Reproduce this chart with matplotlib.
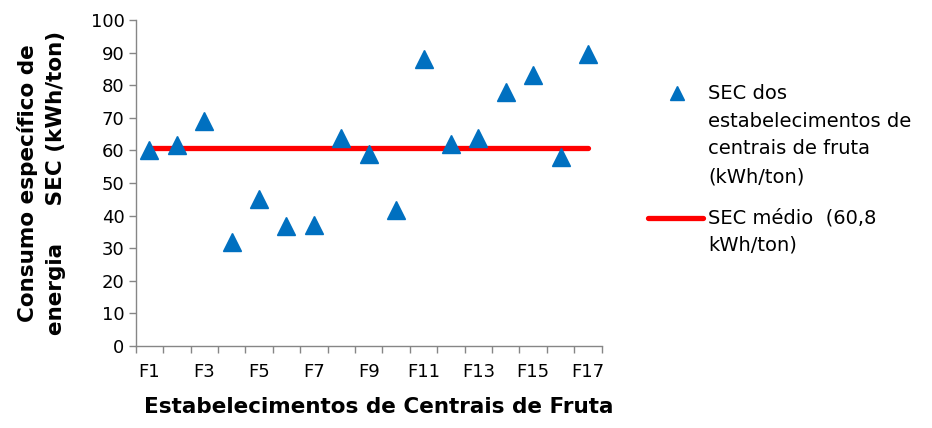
import numpy as np
import matplotlib.pyplot as plt
from matplotlib.lines import Line2D

# SEC por estabelecimento (kWh/ton)
categorias = [f"F{i}" for i in range(1, 18)]
sec = [60.0, 61.7, 69.1, 31.8, 45.0, 36.8, 37.1, 63.7, 58.9, 41.7,
       88.0, 62.0, 63.7, 77.9, 83.0, 58.1, 89.5]
sec_medio = 60.8

azul = "#0070C0"
vermelho = "#FF0000"
cinza = "#868686"

plt.rcParams['font.family'] = ['DejaVu Sans']

fig = plt.figure(figsize=(9.32, 4.28), dpi=100)
ax = fig.add_axes([0.1456, 0.1916, 0.5, 0.7617])

x = np.arange(1, len(categorias) + 1)
ax.plot([x[0], x[-1]], [sec_medio, sec_medio], color=vermelho, lw=3.8,
        solid_capstyle='round', zorder=2)
ax.plot(x, sec, linestyle='none', marker='^', markersize=12.5,
        color=azul, zorder=3)

ax.set_xlim(0.5, len(categorias) + 0.5)
ax.set_ylim(0, 100)
ax.set_yticks(np.arange(0, 101, 10))
ax.set_xticks(x[::2])
ax.set_xticklabels(categorias[::2])
ax.set_xticks(np.arange(0.5, len(categorias) + 1), minor=True)

for s in ['top', 'right']:
    ax.spines[s].set_visible(False)
for s in ['left', 'bottom']:
    ax.spines[s].set_color(cinza)
    ax.spines[s].set_linewidth(1.0)

ax.tick_params(axis='y', direction='out', length=5, width=1, color=cinza,
               labelsize=13, pad=3)
ax.tick_params(axis='x', which='major', length=0, labelsize=13, pad=12)
ax.tick_params(axis='x', which='minor', direction='out', length=5, width=1,
               color=cinza)

ax.set_xlabel("Estabelecimentos de Centrais de Fruta", fontsize=15.5,
              fontweight='bold')
ax.xaxis.set_label_coords(0.522, -0.156)
ax.set_ylabel("Consumo específico de\nenergia     SEC (kWh/ton)", fontsize=15.5,
              fontweight='bold', linespacing=1.5)
ax.yaxis.set_label_coords(-0.15, 0.5)

# legenda
fig.add_artist(Line2D([677 / 932], [1 - 93 / 428], marker='^', markersize=9.5,
                      color=azul, linestyle='none', transform=fig.transFigure))
fig.text(708 / 932, 1 - 84 / 428,
         "SEC dos\nestabelecimentos de\ncentrais de fruta\n(kWh/ton)",
         fontsize=14, va='top', ha='left', linespacing=1.58)
fig.add_artist(Line2D([648 / 932, 703 / 932], [1 - 218 / 428] * 2, color=vermelho,
                      lw=3.8, solid_capstyle='round', transform=fig.transFigure))
fig.text(708 / 932, 1 - 208 / 428, "SEC médio  (60,8\nkWh/ton)",
         fontsize=14, va='top', ha='left', linespacing=1.58)

fig.savefig("out.png", dpi=100)
